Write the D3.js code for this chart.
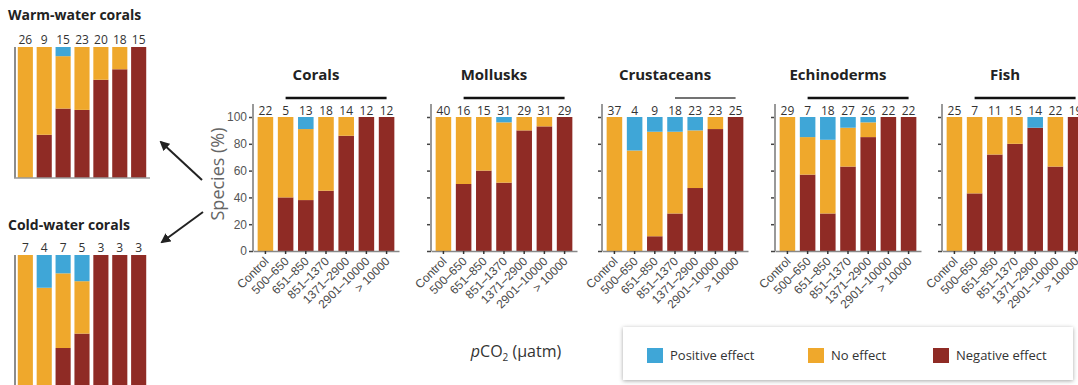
<!DOCTYPE html>
<html>
<head>
<meta charset="utf-8">
<script src="https://cdn.jsdelivr.net/npm/d3@7"></script>
<style>
  body { margin: 0; background: #fff; }
  svg { display: block; font-family: "Open Sans", "Noto Sans", sans-serif; }
</style>
</head>
<body>
<div class="canva"></div>
<script>
// categories and groups
var categories = ["Control", "500\u2013650", "651\u2013850", "851\u20131370", "1371\u20132900", "2901\u201310000", "> 10000"];
var groups = ["Corals", "Mollusks", "Crustaceans", "Echinoderms", "Fish"];

// number of species per bar
var speciesCount = [
    [22, 5, 13, 18, 14, 12, 12],
    [40, 16, 15, 31, 29, 31, 29],
    [37, 4, 9, 18, 23, 23, 25],
    [29, 7, 18, 27, 26, 22, 22],
    [25, 7, 11, 15, 14, 22, 19]
];

// percent of species, per effect
var negativeEffect = [
    [0, 40, 38, 45, 86, 100, 100],
    [0, 50, 60, 51, 90, 93, 100],
    [0, 0, 11, 28, 47, 91, 100],
    [0, 57, 28, 63, 85, 100, 100],
    [0, 43, 72, 80, 92, 63, 100]
];
var noEffect = [
    [100, 60, 53, 55, 14, 0, 0],
    [100, 50, 40, 45, 10, 7, 0],
    [100, 75, 78, 61, 43, 9, 0],
    [100, 28, 55, 29, 11, 0, 0],
    [100, 57, 28, 20, 0, 37, 0]
];
var positiveEffect = [
    [0, 0, 9, 0, 0, 0, 0],
    [0, 0, 0, 4, 0, 0, 0],
    [0, 25, 11, 11, 10, 0, 0],
    [0, 15, 17, 8, 4, 0, 0],
    [0, 0, 0, 0, 8, 0, 0]
];
// significance bar: first and last category index
var sigRange = [[1, 6], [1, 6], [3, 6], [1, 6], [1, 6]];

// insets
var warmCount = [26, 9, 15, 23, 20, 18, 15];
var warmNeg = [0, 33, 53, 52, 75, 83, 100];
var warmNone = [100, 67, 40, 48, 25, 17, 0];
var warmPos = [0, 0, 7, 0, 0, 0, 0];
var coldCount = [7, 4, 7, 5, 3, 3, 3];
var coldNeg = [0, 0, 29, 40, 100, 100, 100];
var coldNone = [100, 75, 57, 40, 0, 0, 0];
var coldPos = [0, 25, 14, 20, 0, 0, 0];

var effects = ["Positive effect", "No effect", "Negative effect"];
var colors = {neg: "#8f2b25", none: "#efa82c", pos: "#3fa6d7"};

const svg = d3.select(".canva").append("svg")
    .attr("width", 1078)
    .attr("height", 385);

var defs = svg.append("defs");
defs.append("filter").attr("id", "shadow")
    .attr("x", "-5%").attr("y", "-30%").attr("width", "110%").attr("height", "160%")
  .append("feDropShadow")
    .attr("dx", 0).attr("dy", 1).attr("stdDeviation", 2)
    .attr("flood-color", "#000").attr("flood-opacity", 0.35);
defs.append("marker").attr("id", "arrow")
    .attr("viewBox", "0 0 10 10").attr("refX", 8).attr("refY", 5)
    .attr("markerWidth", 5).attr("markerHeight", 5).attr("orient", "auto")
  .append("path").attr("d", "M0,0L10,5L0,10z").attr("fill", "#222");

var stack = d3.stack().keys(["neg", "none", "pos"]);

function rowsFor(neg, none, pos) {
    return categories.map((c, i) => ({cat: c, neg: neg[i], none: none[i], pos: pos[i]}));
}

var y = d3.scaleLinear().domain([0, 100]).range([251, 117]);
var axisX = [253, 431, 602, 775, 942];

groups.forEach(function(name, g) {
    var ax = axisX[g];
    var x = d3.scaleBand().domain(categories).range([ax, ax + 146]).padding(0.23);
    var panel = svg.append("g");

    // bars
    var series = stack(rowsFor(negativeEffect[g], noEffect[g], positiveEffect[g]));
    panel.selectAll("g.layer").data(series).enter().append("g")
        .attr("fill", d => colors[d.key])
        .selectAll("rect").data(d => d).enter().append("rect")
        .attr("x", d => x(d.data.cat))
        .attr("width", x.bandwidth())
        .attr("y", d => y(d[1]))
        .attr("height", d => y(d[0]) - y(d[1]));

    // y axis
    var yAxis = d3.axisLeft(y).tickValues([0, 20, 40, 60, 80, 100])
        .tickSize(4).tickSizeOuter(0).tickPadding(2);
    if (g > 0) yAxis.tickFormat("");
    var ya = panel.append("g")
        .attr("transform", `translate(${ax},0)`)
        .call(yAxis);
    ya.select(".domain").remove();
    ya.selectAll(".tick line").attr("stroke", "#444").attr("stroke-width", 1.5);
    ya.selectAll("text").style("font-size", "12px").attr("fill", "#555");
    panel.append("line")
        .attr("x1", ax).attr("x2", ax)
        .attr("y1", y(0)).attr("y2", 104)
        .attr("stroke", "#999").attr("stroke-width", 2);

    // x axis
    var xa = panel.append("g")
        .attr("transform", `translate(0,${y(0)})`)
        .call(d3.axisBottom(x).tickSize(3).tickSizeOuter(0));
    xa.select(".domain").attr("stroke", "#888").attr("stroke-width", 1.5);
    xa.selectAll(".tick line").attr("stroke", "#333").attr("stroke-width", 1.5);
    xa.selectAll("text")
        .style("font-size", "12px")
        .attr("fill", "#4a4a4a")
        .attr("text-anchor", "end")
        .attr("dy", null)
        .attr("y", 0)
        .attr("transform", "translate(4,11) rotate(-45)");

    // species counts
    panel.selectAll("text.count").data(speciesCount[g]).enter().append("text")
        .attr("class", "count")
        .attr("x", (d, i) => x(categories[i]) + x.bandwidth() / 2)
        .attr("y", 115)
        .attr("text-anchor", "middle")
        .style("font-size", "12px")
        .attr("fill", "#333")
        .text(d => d);

    // significance bar
    var s = sigRange[g];
    panel.append("line")
        .attr("x1", x(categories[s[0]]) + x.bandwidth() / 2)
        .attr("x2", x(categories[s[1]]) + x.bandwidth() / 2)
        .attr("y1", 98).attr("y2", 98)
        .attr("stroke", g == 2 ? "#444" : "#111")
        .attr("stroke-width", g == 2 ? 1.6 : 2.4);

    // title
    panel.append("text")
        .attr("x", ax + 63).attr("y", 80)
        .attr("text-anchor", "middle")
        .style("font-size", "15px").style("font-weight", "bold")
        .attr("fill", "#222")
        .text(name);
});

// y label
svg.append("text")
    .attr("transform", "translate(224,174) rotate(-90)")
    .attr("text-anchor", "middle")
    .style("font-size", "18px")
    .attr("fill", "#666")
    .text("Species (%)");

// x label
var xl = svg.append("text")
    .attr("x", 516).attr("y", 357)
    .attr("text-anchor", "middle")
    .style("font-size", "16px")
    .attr("fill", "#333");
xl.append("tspan").style("font-style", "italic").text("p");
xl.append("tspan").text("CO");
xl.append("tspan").attr("dy", 4).style("font-size", "10px").text("2");
xl.append("tspan").attr("dy", -4).text(" (\u00b5atm)");

// insets
function inset(title, counts, neg, none, pos, titleY, top) {
    var x = d3.scaleBand().domain(categories).range([14, 150]).padding(0.2);
    var yi = d3.scaleLinear().domain([0, 100]).range([top + 131, top]);
    var g = svg.append("g");
    var series = stack(rowsFor(neg, none, pos));
    g.selectAll("g.layer").data(series).enter().append("g")
        .attr("fill", d => colors[d.key])
        .selectAll("rect").data(d => d).enter().append("rect")
        .attr("x", d => x(d.data.cat))
        .attr("width", x.bandwidth())
        .attr("y", d => yi(d[1]))
        .attr("height", d => yi(d[0]) - yi(d[1]));
    g.append("line")
        .attr("x1", 15).attr("x2", 15).attr("y1", top).attr("y2", top + 131)
        .attr("stroke", "#666").attr("stroke-width", 1.5);
    g.append("line")
        .attr("x1", 14).attr("x2", 150).attr("y1", top + 131).attr("y2", top + 131)
        .attr("stroke", "#999").attr("stroke-width", 1.5);
    g.selectAll("text.count").data(counts).enter().append("text")
        .attr("x", (d, i) => x(categories[i]) + x.bandwidth() / 2)
        .attr("y", top - 3)
        .attr("text-anchor", "middle")
        .style("font-size", "12px")
        .attr("fill", "#333")
        .text(d => d);
    g.append("text")
        .attr("x", 8).attr("y", titleY)
        .style("font-size", "14px").style("font-weight", "bold")
        .attr("fill", "#222")
        .text(title);
}
inset("Warm-water corals", warmCount, warmNeg, warmNone, warmPos, 20, 47);
inset("Cold-water corals", coldCount, coldNeg, coldNone, coldPos, 230, 255);

// arrows
svg.append("line").attr("x1", 202).attr("y1", 180).attr("x2", 161).attr("y2", 142)
    .attr("stroke", "#222").attr("stroke-width", 2).attr("marker-end", "url(#arrow)");
svg.append("line").attr("x1", 203).attr("y1", 212).attr("x2", 162).attr("y2", 242)
    .attr("stroke", "#222").attr("stroke-width", 2).attr("marker-end", "url(#arrow)");

// legend
var legend = svg.append("g");
legend.append("rect")
    .attr("x", 623).attr("y", 327).attr("width", 450).attr("height", 53)
    .attr("fill", "#fff").attr("filter", "url(#shadow)");
var legendX = [647, 808, 933];
var legendColors = [colors.pos, colors.none, colors.neg];
effects.forEach(function(e, i) {
    legend.append("rect")
        .attr("x", legendX[i]).attr("y", 348).attr("width", 16).attr("height", 15)
        .attr("fill", legendColors[i]);
    legend.append("text")
        .attr("x", legendX[i] + 23).attr("y", 360)
        .style("font-size", "13px")
        .attr("fill", "#333")
        .text(e);
});
</script>
</body>
</html>
